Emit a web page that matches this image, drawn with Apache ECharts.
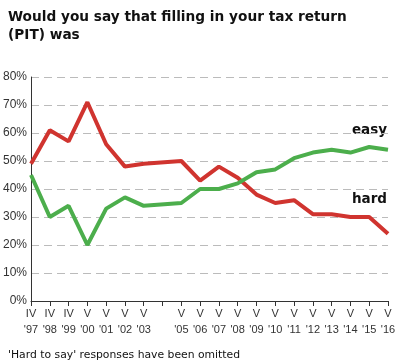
<!DOCTYPE html>
<html><head><meta charset="utf-8">
<script src="https://cdn.jsdelivr.net/npm/echarts@6/dist/echarts.min.js"></script>
<style>html,body{margin:0;padding:0;background:#fff}#c{width:400px;height:360px}</style>
</head><body><div id="c"></div>
<script>
var categories = ["IV\n'97","IV\n'98","IV\n'99","V\n'00","V\n'01","V\n'02","V\n'03","","V\n'05","V\n'06","V\n'07","V\n'08","V\n'09","V\n'10","V\n'11","V\n'12","V\n'13","V\n'14","V\n'15","V\n'16"];
var hard = [49,61,57,71,56,48,49,null,50,43,48,44,38,35,36,31,31,30,30,24];
var easy = [45,30,34,20,33,37,34,null,35,40,40,42,46,47,51,53,54,53,55,54];
var yTicks = [0,10,20,30,40,50,60,70,80];
var chart = echarts.init(document.getElementById('c'), null, {renderer:'canvas'});
chart.setOption({
  animation:false,
  title:[
    {text:"Would you say that filling in your tax return\n(PIT) was", left:3, top:3,
     textStyle:{fontFamily:'DejaVu Sans', fontWeight:'bold', fontSize:13.7, color:'#111', lineHeight:18}},
    {text:"'Hard to say' responses have been omitted", left:3, top:345,
     textStyle:{fontFamily:'DejaVu Sans', fontWeight:'normal', fontSize:10.8, color:'#111'}}
  ],
  grid:{left:27, right:12, top:77, bottom:59},
  xAxis:{type:'category', data:categories, boundaryGap:false,
    axisLine:{lineStyle:{color:'#333', width:1}},
    axisTick:{alignWithLabel:true, interval:0, length:5, lineStyle:{color:'#333'}},
    axisLabel:{interval:0, fontFamily:'Liberation Sans', fontSize:11, color:'#333', lineHeight:16, margin:5}},
  yAxis:{type:'value', min:yTicks[0], max:yTicks[yTicks.length-1], interval:10,
    axisLine:{show:true, lineStyle:{color:'#333'}},
    axisTick:{show:false},
    axisLabel:{formatter:'{value}%', fontFamily:'Liberation Sans', fontSize:12, color:'#333', margin:4},
    splitLine:{lineStyle:{color:'#bbb', type:[8,5], width:1}}},
  series:[
    {name:'hard', type:'line', data:hard, connectNulls:true, symbol:'none',
     lineStyle:{color:'#d0342f', width:4}, itemStyle:{color:'#d0342f'}},
    {name:'easy', type:'line', data:easy, connectNulls:true, symbol:'none',
     lineStyle:{color:'#4cae4c', width:4}, itemStyle:{color:'#4cae4c'}}
  ],
  graphic:[
    {type:'text', right:13, top:123, style:{text:'easy', font:'bold 13.5px "DejaVu Sans"', fill:'#111'}},
    {type:'text', right:13, top:192, style:{text:'hard', font:'bold 13.5px "DejaVu Sans"', fill:'#111'}}
  ]
});
</script></body></html>
